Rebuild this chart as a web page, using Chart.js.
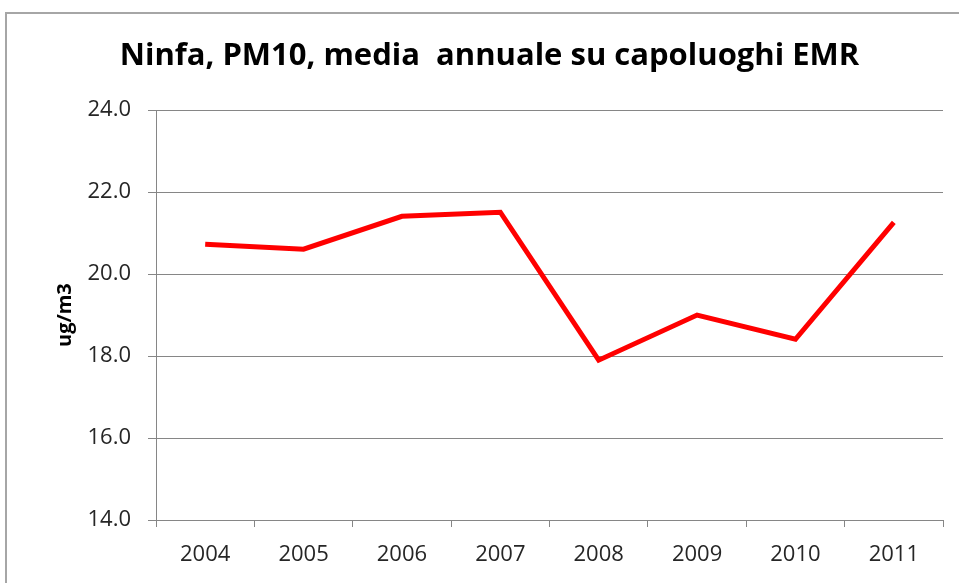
<!DOCTYPE html>
<html>
<head>
<meta charset="utf-8">
<script src="https://cdn.jsdelivr.net/npm/chart.js@4.4.1/dist/chart.umd.min.js"></script>
<style>
  html, body { margin: 0; padding: 0; background: #fff; overflow: hidden; width: 959px; height: 583px; }
  #frame { position: absolute; left: 5px; top: 12px; width: 1100px; height: 800px; border: 2px solid #a6a6a6; box-sizing: border-box; }
  #c { position: absolute; left: 0; top: 0; }
</style>
</head>
<body>
<div id="frame"></div>
<canvas id="c" width="959" height="583"></canvas>
<script>
const titleText = "Ninfa, PM10, media  annuale su capoluoghi EMR";
const yAxisTitle = "ug/m3";
const years = ["2004", "2005", "2006", "2007", "2008", "2009", "2010", "2011"];
const pm10 = [20.73, 20.61, 21.41, 21.51, 17.9, 19.0, 18.41, 21.26];
const yMin = 14, yMax = 24, yStep = 2;

const FONT = "'Open Sans', 'Liberation Sans', sans-serif";
const gridColor = "#868686";

new Chart(document.getElementById("c"), {
  type: "line",
  data: {
    labels: years,
    datasets: [{
      data: pm10,
      borderColor: "#ff0000",
      borderWidth: 5,
      pointRadius: 0,
      tension: 0,
      fill: false
    }]
  },
  options: {
    responsive: false,
    animation: false,
    layout: { padding: { left: 36, right: 16, top: 0, bottom: 0 } },
    plugins: {
      legend: { display: false },
      tooltip: { enabled: false },
      title: {
        display: true,
        text: titleText,
        color: "#000",
        font: { family: FONT, size: 31, weight: "bold", lineHeight: 1.2 },
        padding: { top: 38, bottom: 35 }
      }
    },
    scales: {
      x: {
        offset: true,
        grid: { offset: true, drawOnChartArea: false, drawTicks: true, tickLength: 7, color: gridColor, lineWidth: 1 },
        border: { color: gridColor, width: 1 },
        ticks: { color: "#262626", font: { family: FONT, size: 22 }, padding: 15, maxRotation: 0 },
        afterFit: s => { s.height = 63; }
      },
      y: {
        min: yMin, max: yMax,
        grid: { color: gridColor, lineWidth: 1, tickLength: 8 },
        border: { color: gridColor, width: 1 },
        ticks: { stepSize: yStep, color: "#262626", font: { family: FONT, size: 22 }, padding: 17,
                 callback: v => Number(v).toFixed(1) },
        title: { display: true, text: yAxisTitle, color: "#000", font: { family: FONT, size: 20, weight: "bold", lineHeight: 1.2 }, padding: { top: 17, bottom: 0 } },
        afterFit: s => { s.width = 120; }
      }
    }
  }
});
</script>
</body>
</html>
